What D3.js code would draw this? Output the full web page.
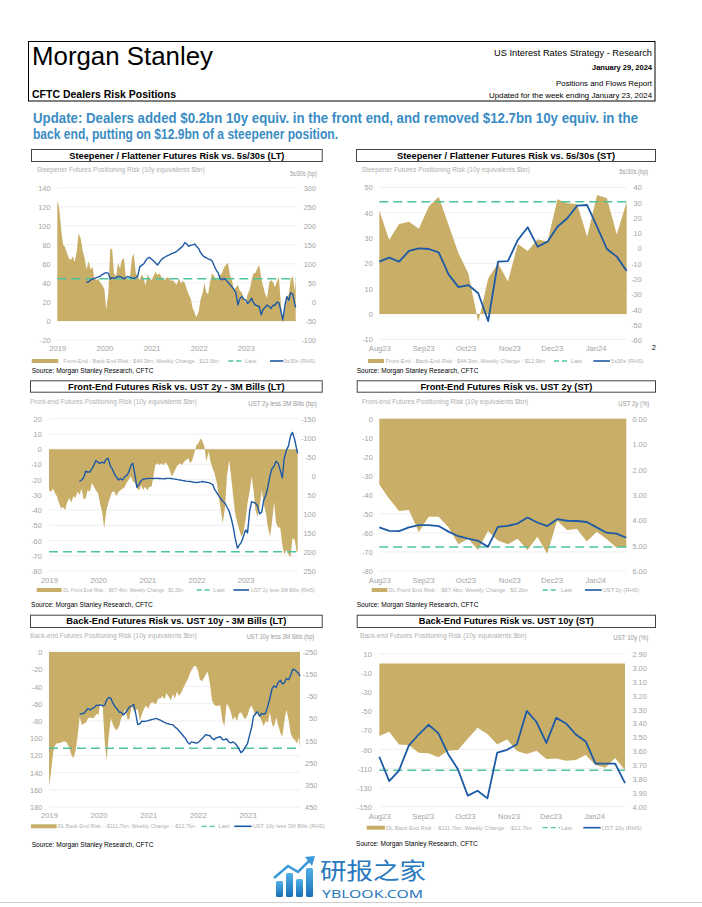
<!DOCTYPE html>
<html><head><meta charset="utf-8">
<script src="https://cdn.jsdelivr.net/npm/d3@7"></script>
<style>
html,body{margin:0;padding:0;background:#fff;}
svg{display:block;}
</style></head><body>
<svg id="page" width="702" height="907"></svg>
<script>
// ================= DATA =================
const ltYearLabels = ["2019","2020","2021","2022","2023"];
const stMonthLabels = ["Aug23","Sep23","Oct23","Nov23","Dec23","Jan24"];

// Long-term series: semi-monthly observations (1st & 15th) Jan-2019 .. Jan-15-2024, plus last week (Jan-23-2024)
const steepLT = [127,119,95,80,78,72,66,64,68,62, 73,92,87,75,66,54,63,54,57,45,
  43,44,40,38,33,12,30,75,76,50, 47,61,55,64,66,47,43,43,66,71,
  50,47,43,49,45,37,49,45,43,47, 52,48,50,47,44,43,46,45,42,43,
  40,38,45,40,42,40,33,28,23,14, 8,4,10,22,30,40,30,28,42,50,
  47,44,43,48,50,56,59,61,48,43, 33,35,38,32,30,25,19,28,33,43,
  50,50,55,59,45,37,28,24,40,43, 40.8,35.5,42,46,16,-3,13,25,28.5,43.7,47,31.4,44.3];
// line series start Aug-15-2019
const s5s30LT = [51,53,57,60,62,64,66,68,72,75, 77,75,60,64,62,64,67,66,65,60,
  64,67,65,63,62,64,67,92,96,100, 108,115,117,112,108,102,97,103,110,115,
  118,121,123,126,128,130,133,138,142,147, 156,152,146,149,150,152,146,140,130,122,
  118,116,113,111,108,95,85,76,62,58, 62,58,52,45,40,33,25,-8,8,14,
  8,5,-4,2,10,-2,-8,-10,-12,-34, -20,-14,-8,-12,-17,
  -8.7,-8.7,-0.4,-2.6,-24,-47.6,-8.3,13.8,4.4,24,20,-5.4,-14.8];

const frontLT = [-27,-28,-26,-29,-31,-35,-39,-38,-40,-35, -32,-35,-31,-32,-28,-30,-26,-33,-32,-27,
  -28,-22,-24.6,-27,-29,-35.5,-42,-52,-41,-36, -31,-28,-28,-31,-28,-27,-26,-25,-22,-20,
  -18,-21,-22,-25.7,-27,-23.5,-27,-24.6,-27,-24.6, -24.6,-18,-10.4,-9.3,-10.4,-9.3,-10.4,-8.8,-10.4,-13.6,
  -18,-15.8,-12.5,-10.4,-9.3,-10.4,-8.2,-7.1,-6,-9.3, -7.1,-2.7,2.8,3.8,7.1,5,1.7,-8.2,-1.6,-8.2,
  -12.5,-15.8,-22,-31,-40,-48.7,-38,-18,-7.1,-18, -31,-42,-48.7,-53,-57.5,-55,-46.5,-35.5,-27,-18,
  -27,-40,-44.4,-38,-27,-35.5,-42,-51,-57.5,-48.7, -34.5,-48.5,-51.5,-51.5,-63,-69,-66,-69,-71,-58.5,-59.4,-67.6,-67.4];
const ust2s3mLT = [15,11,5,-12,-10,-10,-18,-28,-40,-35, -33,-36,-33,-44,-46,-26,-18,-5,3,11,
  7,11,3,-1,-9,-27,-33,-2,30,22, 13,9,8,7,6.6,6.6,7,6.6,6.6,7,
  7.5,8,7,6.6,6.6,7,8,9,10,11, 12,13,14,14.5,15,16,17,18,17,16,
  15,16,17,18,20,23,35,44,52,60, 67,72,82,93,110,135,163,190,182,174,
  160,142,150,90,68,70,72,80,100,95, 65,50,30,0,-18,
  -26,-38,-32,-15,5,-46,-68,-78,-105,-114,-95,-70,-59];

const backLT = [-156,-140,-116,-108,-106,-106,-105,-104,-104,-106, -112,-120,-123,-115,-96,-75,-85,-83,-82,-77,
  -76,-77,-76,-72,-73,-58,-65,-104,-125,-98, -77,-84,-89,-91,-86,-77,-73,-66,-78,-78,
  -62,-68,-68,-66,-80,-72,-66,-62,-66,-60, -58,-60,-60,-54,-54,-51,-55,-48,-52,-56,
  -49,-54,-46,-51,-47,-42,-37,-33,-26,-21, -17,-16,-21,-32,-34,-30,-26,-23,-38,-56,
  -61,-63,-62,-62,-80,-86,-60,-63,-70,-79, -75,-80,-71,-70,-75,-78,-74,-66,-62,-68,
  -74,-70,-75,-80,-86,-80,-82,-70,-84,-87, -75.9,-84.7,-94.1,-98.3,-78.7,-67.2,-79.4,-94.7,-100,-101.9,-106.4,-99,-111.7];
const ust10s3mLT = [32,27,28,15,5,12,5,0,-10,-8, -12,-7,-10,-34,-45,-40,-20,-3,6,22,
  22,34,26,12,-2,-6,-13,30,78,73, 62,64,62,60,57,54,52,50,54,58,
  63,68,72,75,77,79,88,96,106,118, 128,140,155,166,156,158,161,160,152,142,
  132,123,126,128,140,146,138,135,132,145, 146,143,155,161,156,162,172,190,205,195,
  180,165,130,90,40,30,20,40,27,32, 25,-8,-40,-85,-97,
  -90,-112,-122,-106,-112,-130,-125,-145,-172,-170,-160,-152,-140];

// Short-term series: weekly, Aug-01-2023 .. Jan-23-2024
const steepST = [40.8,29.2,35.5,36.4,33.6,42.4,46.3,35.1,24,16,-3.3,14,20,12.8,27.6,24.9,29.5,28.5,45.3,43.7,43.3,30.5,47,45.7,31.4,44.3];
const s5s30ST = [-8.7,-6.1,-8.7,-1.7,0,-0.4,-2.6,-17,-25.4,-24,-29.4,-47.6,-8.7,-8.3,5.5,13.8,1.1,4.4,14.2,19.7,28,28.4,14.2,-0.4,-5.4,-14.8];
const frontST = [-34.5,-42,-48.5,-48,-59.5,-51.5,-51.5,-57,-66,-63,-69,-59,-64,-66,-63,-69,-62,-71,-53.5,-58.5,-58,-64.5,-59.4,-63.2,-67.6,-67.4];
const ust2ST = [4.28,4.42,4.43,4.28,4.19,4.19,4.23,4.45,4.63,4.72,4.81,5.05,4.26,4.22,4.13,3.89,4.09,4.23,3.96,4.02,4.03,4.07,4.28,4.49,4.53,4.69];
const backST = [-75.9,-71.4,-84.7,-85.4,-93.4,-94.1,-98.3,-91.3,-90.6,-78.7,-67.2,-73.8,-84.7,-79.4,-91.6,-94.7,-91.3,-100,-99.4,-101.9,-101.1,-95.9,-106.4,-109.1,-99,-111.7];
const ust10ST = [3.64,3.815,3.74,3.56,3.48,3.41,3.47,3.62,3.73,3.92,3.885,3.94,3.61,3.59,3.55,3.31,3.39,3.54,3.36,3.40,3.48,3.53,3.69,3.69,3.69,3.83];

const lastSteep = 44.3, lastFront = -67.4, lastBack = -111.7;

// axis ticks
const tSteepLT_L = [140,120,100,80,60,40,20,0,-20];
const tSteepLT_R = [300,250,200,150,100,50,0,-50,-100];
const tSteepST_L = [50,40,30,20,10,0,-10];
const tSteepST_R = [40,30,20,10,0,-10,-20,-30,-40,-50,-60];
const tFrontLT_L = [20,10,0,-10,-20,-30,-40,-50,-60,-70,-80];
const tFrontLT_R = [-150,-100,-50,0,50,100,150,200,250];
const tFrontST_L = [0,-10,-20,-30,-40,-50,-60,-70,-80];
const tFrontST_R = [0,1,2,3,4,5,6];
const tBackLT_L = [0,-20,-40,-60,-80,-100,-120,-140,-160,-180];
const tBackLT_L_labels = ["0","-20","-40","-60","-80","100","120","140","160","180"];
const tBackLT_R = [-250,-150,-50,50,150,250,350,450];
const tBackST_L = [10,-10,-30,-50,-70,-90,-110,-130,-150];
const tBackST_R = [2.9,3.0,3.1,3.2,3.3,3.4,3.5,3.6,3.7,3.8,3.9,4.0];

// ================= DATES =================
const ltDates = [];
for (let y = 2019; y <= 2024; y++) for (let m = 0; m < 12; m++) for (const d of [1, 15]) {
  const dt = new Date(y, m, d); if (dt < new Date(2024, 0, 16)) ltDates.push(dt);
}
ltDates.push(new Date(2024, 0, 23));
const ltLineDates = ltDates.slice(15);
const stDates = d3.range(26).map(i => d3.timeDay.offset(new Date(2023, 7, 1), 7 * i));
const ltDomain = [new Date(2019, 0, 1), new Date(2024, 0, 23)];
const stDomain = [new Date(2023, 7, 1), new Date(2024, 0, 23)];
const ltTickDates = ltYearLabels.map(s => new Date(+s, 0, 1));
const stTickDates = [new Date(2023,7,1),new Date(2023,8,1),new Date(2023,9,1),new Date(2023,10,1),new Date(2023,11,1),new Date(2024,0,1)];

// ================= STYLE =================
const FONT = '"Liberation Sans", Arial, Helvetica, sans-serif';
const GOLD = "#c9ae68", BLUE = "#1d5aa5", GREEN = "#4fc39f";
const AX = "#a3a3a3", LT_TXT = "#b0b0b0", GRID = "#ebebeb";

const svg = d3.select("#page").attr("font-family", FONT);

function txt(g, x, y, s, o = {}) {
  const t = g.append("text").attr("x", x).attr("y", y).text(s)
    .attr("font-size", o.fs || 7).attr("fill", o.fill || "#000");
  if (o.anchor) t.attr("text-anchor", o.anchor);
  if (o.bold) t.attr("font-weight", "bold");
  if (o.w) t.attr("textLength", o.w).attr("lengthAdjust", "spacingAndGlyphs");
  if (o.ls) t.attr("letter-spacing", o.ls);
  return t;
}

// ================= HEADER =================
svg.append("rect").attr("x", 28.5).attr("y", 41.5).attr("width", 626.5).attr("height", 59.5)
  .attr("fill", "none").attr("stroke", "#000").attr("stroke-width", 1);
txt(svg, 32, 65, "Morgan Stanley", {fs: 25, w: 181});
txt(svg, 652, 56, "US Interest Rates Strategy - Research", {fs: 9.5, anchor: "end", w: 158});
txt(svg, 652, 69.5, "January 29, 2024", {fs: 7.8, anchor: "end", bold: true, w: 60});
txt(svg, 652, 85.5, "Positions and Flows Report", {fs: 7.8, anchor: "end", w: 96});
txt(svg, 652, 97.5, "Updated for the week ending January 23, 2024", {fs: 7.8, anchor: "end", w: 163});
txt(svg, 32, 98, "CFTC Dealers Risk Positions", {fs: 10.3, bold: true, w: 144});
txt(svg, 33, 123, "Update: Dealers added $0.2bn 10y equiv. in the front end, and removed $12.7bn 10y equiv. in the", {fs: 14.5, bold: true, fill: "#3a8cc4", w: 605});
txt(svg, 33, 139, "back end, putting on $12.9bn of a steepener position.", {fs: 14.5, bold: true, fill: "#3a8cc4", w: 305});

// ================= PANELS =================
const panels = [
  { title: "Steepener / Flattener Futures Risk vs. 5s/30s (LT)", tw: 215, box: [31, 149, 321.7, 161],
    sub: "Steepener Futures Positioning Risk (10y equivalents $bn)", subX: 36.7, subY: 170, subW: 168,
    unit: "5s/30s (bp)", unitX: 316.7, unitY: 173.3, unitW: 26.7,
    x0: 57.3, x1: 295.7, domain: ltDomain, dates: ltDates, lineDates: ltLineDates,
    xTicks: ltTickDates, xLabels: ltYearLabels, xLabY: 348.3,
    yL: [[-20, 140], [340, 187.7]], tL: tSteepLT_L, lLx: 50.5,
    yR: [[-100, 300], [340, 187.7]], tR: tSteepLT_R, lRx: 316, fmtR: d => d,
    area: steepLT, line: s5s30LT, last: lastSteep, lw: 1.4,
    leg: {y: 361, sw: [31.7, 58.3], text: "Front-End - Back-End Risk : $44.3bn; Weekly Change : $12.9bn", tx: 63.3, tw: 155.7,
      dash: [228.3, 241.7], lastX: 245, ln: [270, 283.3], lab: "5s30s (RHS)", lx: 284, lw: 31},
    src: [31.7, 370] },
  { title: "Steepener / Flattener Futures Risk vs. 5s/30s (ST)", tw: 218, box: [356, 149, 655, 161],
    sub: "Steepener Futures Positioning Risk (10y equivalents $bn)", subX: 361.7, subY: 170, subW: 168.3,
    unit: "5s/30s (bp)", unitX: 648.3, unitY: 171.5, unitW: 29,
    x0: 379.3, x1: 626.7, domain: stDomain, dates: stDates, lineDates: stDates,
    xTicks: stTickDates, xLabels: stMonthLabels, xLabY: 348.3,
    yL: [[-10, 50], [339.3, 187.3]], tL: tSteepST_L, lLx: 372.7,
    yR: [[-60, 40], [340, 187.3]], tR: tSteepST_R, lRx: 641.7, fmtR: d => d,
    area: steepST, line: s5s30ST, last: lastSteep, lw: 1.8,
    leg: {y: 361, sw: [368, 384], text: "Front-End - Back-End Risk : $44.3bn; Weekly Change : $12.9bn", tx: 385.7, tw: 159.3,
      dash: [554, 568.3], lastX: 570.7, ln: [593.3, 610], lab: "5s30s (RHS)", lx: 611, lw: 32.3},
    src: [356.7, 370] },
  { title: "Front-End Futures Risk vs. UST 2y - 3M Bills (LT)", tw: 216.7, box: [30, 380.3, 321.7, 391.7],
    sub: "Front-end Futures Positioning Risk (10y equivalents $bn)", subX: 30, subY: 401.7, subW: 166.7,
    unit: "UST 2y less 3M Bills (bp)", unitX: 316.7, unitY: 403.3, unitW: 68.4,
    x0: 49, x1: 297.7, domain: ltDomain, dates: ltDates, lineDates: ltLineDates,
    xTicks: ltTickDates, xLabels: ltYearLabels, xLabY: 580,
    yL: [[-80, 20], [571, 418.7]], tL: tFrontLT_L, lLx: 41.7,
    yR: [[-150, 250], [418.7, 571]], tR: tFrontLT_R, lRx: 315.7, fmtR: d => d,
    area: frontLT, line: ust2s3mLT, last: lastFront, lw: 1.4,
    leg: {y: 590, sw: [36.7, 61.7], text: "DL Front End Risk : -$67.4bn; Weekly Change : $0.2bn", tx: 63.3, tw: 120,
      dash: [196.7, 211.7], lastX: 213.3, ln: [233.3, 249], lab: "UST 2y less 3M Bills (RHS)", lx: 251, lw: 64},
    src: [31, 604.3] },
  { title: "Front-End Futures Risk vs. UST 2y (ST)", tw: 171.7, box: [356.7, 380.3, 655, 391.7],
    sub: "Front-end Futures Positioning Risk (10y equivalents $bn)", subX: 361.7, subY: 401.7, subW: 166.6,
    unit: "UST 2y (%)", unitX: 649.3, unitY: 403.3, unitW: 31,
    x0: 379.3, x1: 626.3, domain: stDomain, dates: stDates, lineDates: stDates,
    xTicks: stTickDates, xLabels: stMonthLabels, xLabY: 580,
    yL: [[-80, 0], [571, 418.7]], tL: tFrontST_L, lLx: 372.7,
    yR: [[0, 6], [418.7, 571]], tR: tFrontST_R, lRx: 646.7, fmtR: d3.format(".2f"),
    area: frontST, line: ust2ST, last: lastFront, lw: 1.8,
    leg: {y: 590, sw: [371.7, 387.3], text: "DL Front End Risk : -$67.4bn; Weekly Change : $0.2bn", tx: 388.3, tw: 139.4,
      dash: [542.7, 558.3], lastX: 560.7, ln: [585, 601.7], lab: "UST 2y (RHS)", lx: 602.7, lw: 36.6},
    src: [356.7, 604.3] },
  { title: "Back-End Futures Risk vs. UST 10y - 3M Bills (LT)", tw: 220, box: [30, 614.7, 321.7, 627],
    sub: "Back-end Futures Positioning Risk (10y equivalents $bn)", subX: 30, subY: 636, subW: 166.7,
    unit: "UST 10y less 3M Bills (bp)", unitX: 314.3, unitY: 637, unitW: 67.6,
    x0: 49, x1: 300, domain: ltDomain, dates: ltDates, lineDates: ltLineDates,
    xTicks: ltTickDates, xLabels: ltYearLabels, xLabY: 815.3,
    yL: [[-180, 0], [807, 652]], tL: tBackLT_L, lLabels: tBackLT_L_labels, lLx: 42.3,
    yR: [[-250, 450], [652, 807]], tR: tBackLT_R, lRx: 317.3, fmtR: d => d,
    area: backLT, line: ust10s3mLT, last: lastBack, lw: 1.4,
    leg: {y: 826.3, sw: [31, 56.7], text: "DL Back End Risk : -$111.7bn; Weekly Change : -$12.7bn", tx: 57.7, tw: 137.3,
      dash: [201.7, 216.7], lastX: 218.3, ln: [234.3, 251.7], lab: "UST 10y less 3M Bills (RHS)", lx: 252.7, lw: 72.3},
    src: [31.7, 844.3] },
  { title: "Back-End Futures Risk vs. UST 10y (ST)", tw: 175, box: [356.7, 614.7, 655, 627],
    sub: "Back-end Futures Positioning Risk (10y equivalents $bn)", subX: 360, subY: 636, subW: 166.7,
    unit: "UST 10y (%)", unitX: 648.3, unitY: 638, unitW: 35,
    x0: 379.3, x1: 625, domain: stDomain, dates: stDates, lineDates: stDates,
    xTicks: stTickDates, xLabels: stMonthLabels, xLabY: 816,
    yL: [[-150, 10], [806.7, 654]], tL: tBackST_L, lLx: 371.7,
    yR: [[2.9, 4.0], [654, 806.7]], tR: tBackST_R, lRx: 646.7, fmtR: d3.format(".2f"),
    area: backST, line: ust10ST, last: lastBack, lw: 1.8,
    leg: {y: 827.7, sw: [366.7, 385], text: "DL Back End Risk : -$111.7bn; Weekly Change : -$12.7bn", tx: 386, tw: 145.7,
      dash: [542.7, 560], lastX: 560.7, ln: [583.3, 600.7], lab: "UST 10y (RHS)", lx: 601.7, lw: 40},
    src: [356, 843.7] }
];

function drawPanel(p) {
  const g = svg.append("g");
  // title box
  g.append("rect").attr("x", p.box[0] + 0.5).attr("y", p.box[1] + 0.5)
    .attr("width", p.box[2] - p.box[0]).attr("height", p.box[3] - p.box[1])
    .attr("fill", "#fff").attr("stroke", "#444").attr("stroke-width", 1);
  txt(g, (p.box[0] + p.box[2]) / 2 + 0.5, (p.box[1] + p.box[3]) / 2 + 3.6, p.title, {fs: 9.8, bold: true, anchor: "middle", w: p.tw});
  // subtitle & unit
  txt(g, p.subX, p.subY + 2.3, p.sub, {fs: 6.6, fill: LT_TXT, w: p.subW});
  txt(g, p.unitX, p.unitY + 2.3, p.unit, {fs: 6.4, fill: "#999", anchor: "end", w: p.unitW});

  const x = d3.scaleTime().domain(p.domain).range([p.x0, p.x1]);
  const yL = d3.scaleLinear().domain(p.yL[0]).range(p.yL[1]);
  const yR = d3.scaleLinear().domain(p.yR[0]).range(p.yR[1]);

  // grid
  g.append("g").selectAll("line").data(p.tL).join("line")
    .attr("x1", p.x0).attr("x2", p.x1).attr("y1", d => yL(d)).attr("y2", d => yL(d))
    .attr("stroke", GRID).attr("stroke-width", 0.8);

  // area
  g.append("path").datum(p.area.map((v, i) => [p.dates[i], v]))
    .attr("fill", GOLD)
    .attr("d", d3.area().x(d => x(d[0])).y0(yL(0)).y1(d => yL(d[1])));

  // last value dashed line
  g.append("line").attr("x1", p.x0).attr("x2", p.x1).attr("y1", yL(p.last)).attr("y2", yL(p.last))
    .attr("stroke", GREEN).attr("stroke-width", 1.5).attr("stroke-dasharray", "9,5");

  // RHS line
  g.append("path").datum(p.line.map((v, i) => [p.lineDates[i], v]))
    .attr("fill", "none").attr("stroke", BLUE).attr("stroke-width", p.lw).attr("stroke-linejoin", "round")
    .attr("d", d3.line().x(d => x(d[0])).y(d => yR(d[1])));

  // left axis
  const axL = g.append("g").attr("transform", `translate(${p.lLx},0)`)
    .call(d3.axisLeft(yL).tickValues(p.tL).tickSize(0).tickPadding(0)
      .tickFormat((d, i) => p.lLabels ? p.lLabels[i] : d));
  // right axis (labels right-aligned)
  const axR = g.append("g").attr("transform", `translate(${p.lRx},0)`)
    .call(d3.axisLeft(yR).tickValues(p.tR).tickSize(0).tickPadding(0).tickFormat(p.fmtR));
  // x axis
  const axX = g.append("g").attr("transform", `translate(0,${p.xLabY})`)
    .call(d3.axisBottom(x).tickValues(p.xTicks).tickSize(0).tickPadding(0)
      .tickFormat((d, i) => p.xLabels[i]));
  [axL, axR, axX].forEach(a => {
    a.select(".domain").remove();
    a.attr("font-family", FONT).attr("font-size", 7.3);
    a.selectAll("text").attr("fill", AX);
  });
  axL.selectAll("text").attr("dy", "0.35em");
  axR.selectAll("text").attr("dy", "0.35em");
  axX.selectAll("text").attr("dy", "0.35em").attr("font-size", 7.6);

  // legend
  const L = p.leg;
  g.append("rect").attr("x", L.sw[0]).attr("y", L.y - 2).attr("width", L.sw[1] - L.sw[0]).attr("height", 4).attr("fill", GOLD);
  txt(g, L.tx, L.y + 2, L.text, {fs: 6, fill: LT_TXT, w: L.tw});
  g.append("line").attr("x1", L.dash[0]).attr("x2", L.dash[1]).attr("y1", L.y).attr("y2", L.y)
    .attr("stroke", GREEN).attr("stroke-width", 1.3).attr("stroke-dasharray", "5,3");
  txt(g, L.lastX, L.y + 2, "Last", {fs: 6, fill: LT_TXT});
  g.append("line").attr("x1", L.ln[0]).attr("x2", L.ln[1]).attr("y1", L.y).attr("y2", L.y)
    .attr("stroke", BLUE).attr("stroke-width", 1.6);
  txt(g, L.lx, L.y + 2, L.lab, {fs: 6, fill: LT_TXT, w: L.lw});

  // source
  txt(g, p.src[0], p.src[1] + 2.5, "Source: Morgan Stanley Research, CFTC", {fs: 7.2, w: 121.7});
}
panels.forEach(drawPanel);

// page number
txt(svg, 651.7, 350, "2", {fs: 7.5});

// ================= WATERMARK =================
const wm = svg.append("g");
const grad = svg.append("defs").append("linearGradient").attr("id", "wmg").attr("x1", 0).attr("y1", 1).attr("x2", 0).attr("y2", 0);
grad.append("stop").attr("offset", 0).attr("stop-color", "#1a6fb8");
grad.append("stop").attr("offset", 1).attr("stop-color", "#4fb0e6");
[[276, 881], [286, 873], [296, 879], [306, 868]].forEach(([bx, by]) => {
  wm.append("rect").attr("x", bx).attr("y", by).attr("width", 7).attr("height", 897 - by).attr("rx", 1.5).attr("fill", "url(#wmg)");
});
wm.append("path").attr("d", "M274,878 L288,866 L298,872 L311,859").attr("fill", "none").attr("stroke", "#3a9ad9").attr("stroke-width", 2.5);
wm.append("path").attr("d", "M305,857 L315,856 L312,866 Z").attr("fill", "#3a9ad9");
wm.append("text").attr("x", 320).attr("y", 879).attr("font-family", '"Noto Sans CJK SC", sans-serif')
  .attr("font-size", 23).attr("fill", "#2a78bd").attr("textLength", 106).attr("lengthAdjust", "spacingAndGlyphs").text("研报之家");
wm.append("text").attr("x", 322).attr("y", 897.5).attr("font-family", '"Noto Sans", sans-serif')
  .attr("font-size", 11).attr("fill", "#2a78bd").attr("textLength", 101).attr("lengthAdjust", "spacingAndGlyphs").text("YBLOOK.COM");
svg.append("line").attr("x1", 0).attr("x2", 702).attr("y1", 902.5).attr("y2", 902.5).attr("stroke", "#cfcfcf").attr("stroke-width", 1);
</script>
</body></html>
